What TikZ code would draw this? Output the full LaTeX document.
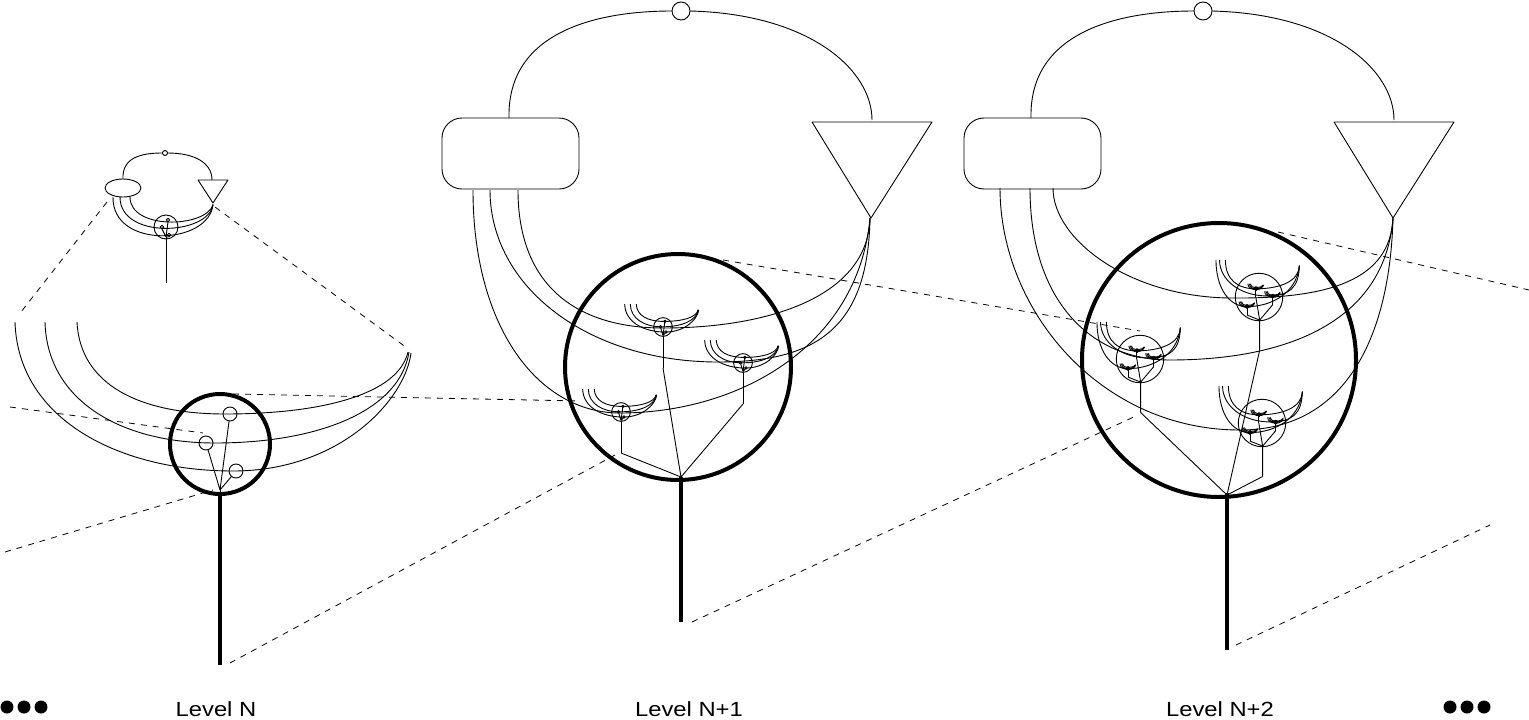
\documentclass[tikz,border=0pt]{standalone}
\usepackage{fontspec}
\setmainfont{Liberation Sans}
\tikzset{
  heavy/.style={line width=4pt},
  zoomline/.style={dash pattern=on 6pt off 6pt, line width=0.8pt},
  lbl/.style={font=\fontsize{20.5}{24}\selectfont, xscale=1.16, anchor=base, inner sep=0pt},
  % level-N fan, relative to its circle centre
  fanN/.pic={
    \draw (-205,-122) .. controls (-202,-24) and (-100,27) .. (13,27) .. controls (120,27) and (185,-44) .. (191,-91);
    \draw (-175,-122) .. controls (-173,-44) and (-100,-1) .. (-5,-1) .. controls (100,-1) and (180,-34) .. (189,-92);
    \draw (-143,-122) .. controls (-140,-59) and (-80,-30) .. (5,-30) .. controls (100,-30) and (178,-49) .. (188,-92);
    \draw (0,0) circle[radius=50];
    \draw (10,-30) circle[radius=7] (-14,-1) circle[radius=7] (16,27) circle[radius=7];
    \draw (9.1,-23.1) -- (0,46) (-12,5.7) -- (0,46) (11.5,32.4) -- (0,46);
    \draw (0,46) -- (0,221);
  },
  % level-N+1 content, relative to its circle centre
  fanNN/.pic={
    \draw (-160,-177) .. controls (-160,-80) and (-100,-39) .. (-15,-39) .. controls (90,-39) and (190,-70) .. (192,-149);
    \draw (-188,-177) .. controls (-188,-80) and (-90,-5) .. (40,-5) .. controls (140,-5) and (190,-40) .. (192,-149);
    \draw (-205,-177) .. controls (-205,-40) and (-140,46) .. (-58,46) .. controls (60,46) and (180,-20) .. (192,-149);
    \draw (0,0) circle[radius=113];
    \path (-15,-40) pic[transform shape, scale=0.187] {fanN}
          (65,-4) pic[transform shape, scale=0.187] {fanN}
          (-57,45) pic[transform shape, scale=0.187] {fanN};
    \draw (-15,1) -- (3,110) -- (65,37) (-57,86) -- (3,110) -- (3,255);
  },
  % loop, rounded box and triangle at the top of a level
  toppart/.pic={
    \draw (509,118) .. controls (507,30) and (600,11) .. (672,11);
    \draw (690,11) .. controls (810,14) and (872,70) .. (872,120);
    \draw (681,11) circle[radius=9];
    \draw[rounded corners=20pt] (442,118) rectangle (579,189);
    \draw (812,122) -- (932,122) -- (871,218) -- cycle;
  }
}
\begin{document}
\begin{tikzpicture}[x=1pt,y=-1pt,line width=0.9pt,line join=round]
\fill[white] (0,0) rectangle (1529,720);
\useasboundingbox (0,0) rectangle (1529,720);

% ---------- small overview (top of level N) ----------
\draw (123,179) .. controls (122,158) and (140,153) .. (162.5,153);
\draw (167.5,153) .. controls (195,153) and (212,163) .. (212,180);
\draw (165,153) circle[radius=2.5];
\draw (123,188) ellipse[x radius=18, y radius=9];
\draw (198,180) -- (228,180) -- (213,203) -- cycle;
\draw (113,197) .. controls (112,250) and (210,245) .. (213,204);
\draw (120,197) .. controls (120,240) and (208,235) .. (213,205);
\draw (130,197) .. controls (130,230) and (205,228) .. (213,205);
\draw (166,227) circle[radius=12];
\draw (168,220) circle[radius=1.8] (162,227) circle[radius=1.8] (169,235) circle[radius=1.8];
\draw (168,222) -- (166,237) (162,229) -- (166,237) (168,237) -- (166,237);
\draw (166,237) -- (166,283);

% ---------- level N ----------
\path (220,444) pic {fanN};
\draw[heavy] (220,444) circle[radius=50];
\draw[heavy] (220,492) -- (220,665);

% ---------- level N+1 ----------
\path (0,0) pic {toppart};
\path (678,367) pic {fanNN};
\draw[heavy] (678,367) circle[radius=113];
\draw[heavy] (681,477) -- (681,622);

% ---------- level N+2 ----------
\path (522,0) pic {toppart};
\draw (1053,188) .. controls (1053,240) and (1130,297) .. (1230,298) .. controls (1330,299) and (1390,280) .. (1393,218);
\draw (1030,188) .. controls (1030,300) and (1090,360) .. (1170,360) .. controls (1290,360) and (1385,320) .. (1393,218);
\draw (1000,188) .. controls (1000,310) and (1100,430) .. (1240,430) .. controls (1350,430) and (1390,330) .. (1393,218);
\path (1140,359) pic[scale=0.21] {fanNN}
      (1259,297) pic[scale=0.21] {fanNN}
      (1262,423) pic[scale=0.21] {fanNN};
\coordinate (rootC) at (1227,495);
\draw (1140.6,412.5) -- (rootC) -- (1259.6,350.5) (1262.6,476.5) -- (rootC);
\draw[heavy] (1219,360) circle[radius=137];
\draw[heavy] (1227,493) -- (1227,650);

% ---------- zoom (dashed) lines ----------
\coordinate (a1) at (107,202);  \coordinate (a2) at (21,312);
\coordinate (b1) at (215,207);  \coordinate (b2) at (407,348);
\coordinate (c1) at (10,407);   \coordinate (c2) at (203,433);
\coordinate (d1) at (5,552);    \coordinate (d2) at (213,490);
\coordinate (e1) at (233,394);  \coordinate (e2) at (580,401);
\coordinate (f1) at (230,663);  \coordinate (f2) at (615,455);
\coordinate (g1) at (723,260);  \coordinate (g2) at (1140,331);
\coordinate (h1) at (692,622);  \coordinate (h2) at (1138,415);
\coordinate (i1) at (1278,232); \coordinate (i2) at (1529,290);
\coordinate (j1) at (1236,645); \coordinate (j2) at (1490,525);
\foreach \s in {a,b,c,d,e,f,g,h,i,j}
  \draw[zoomline] (\s1) -- (\s2);

% ---------- ellipses and labels ----------
\fill (7,707) circle[radius=6.5] (24,707) circle[radius=6.5] (41,707) circle[radius=6.5];
\fill (1450,707) circle[radius=6.5] (1467,707) circle[radius=6.5] (1484,707) circle[radius=6.5];
\node[lbl] (lvN)   at (216,716)  {Level N};
\node[lbl] (lvN1)  at (689,716)  {Level N+1};
\node[lbl] (lvN2)  at (1220,716) {Level N+2};
\end{tikzpicture}
\end{document}
